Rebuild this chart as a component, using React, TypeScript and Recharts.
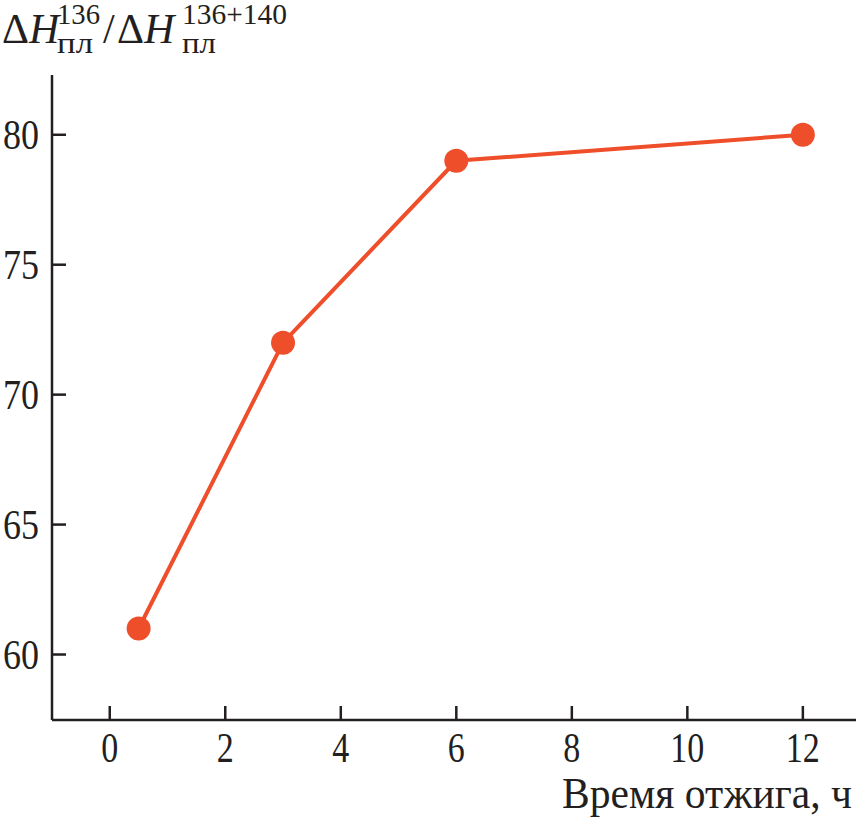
import React from "react";
import { LineChart, Line, XAxis, YAxis } from "recharts";

const hours = [0.5, 3, 6, 12];
const ratio = [61, 72, 79, 80];
const xTicks = [0, 2, 4, 6, 8, 10, 12];
const yTicks = [60, 65, 70, 75, 80];

const data = hours.map((h, i) => ({ h, v: ratio[i] }));

const INK = "#231f20";
const RED = "#ef4e2a";
const FONT = "'Liberation Serif', 'Times New Roman', serif";

function XTick(props: any) {
  const { x, y, payload } = props;
  const s = String(payload.value);
  return (
    <g>
      <line x1={x} y1={y} x2={x} y2={y - 14} stroke={INK} strokeWidth={2.5} />
      <text x={x} y={y + 42} textAnchor="middle" fill={INK} fontFamily={FONT} fontSize={42}
        textLength={s.length * 17} lengthAdjust="spacingAndGlyphs">{s}</text>
    </g>
  );
}

function YTick(props: any) {
  const { x, y, payload } = props;
  const s = String(payload.value);
  return (
    <g>
      <line x1={x} y1={y} x2={x + 14} y2={y} stroke={INK} strokeWidth={2.5} />
      <text x={x - 13} y={y + 14} textAnchor="end" fill={INK} fontFamily={FONT} fontSize={42}
        textLength={s.length * 18} lengthAdjust="spacingAndGlyphs">{s}</text>
    </g>
  );
}

function YTitle() {
  return (
    <g fill={INK} fontFamily={FONT}>
      <text x={2} y={43} fontSize={42}>Δ<tspan fontStyle="italic">H</tspan></text>
      <text x={57} y={24} fontSize={30} textLength={43} lengthAdjust="spacingAndGlyphs">136</text>
      <text x={57} y={53} fontSize={30} textLength={36} lengthAdjust="spacingAndGlyphs">пл</text>
      <text x={103} y={43} fontSize={42}>/</text>
      <text x={117} y={43} fontSize={42}>Δ<tspan fontStyle="italic">H</tspan></text>
      <text x={182} y={24} fontSize={30} textLength={105} lengthAdjust="spacingAndGlyphs">136+140</text>
      <text x={182} y={53} fontSize={30} textLength={34} lengthAdjust="spacingAndGlyphs">пл</text>
    </g>
  );
}

function XTitle() {
  return (
    <text x={852} y={808} textAnchor="end" fill={INK} fontFamily={FONT} fontSize={45}
      textLength={290} lengthAdjust="spacingAndGlyphs">Время отжига, ч</text>
  );
}

export default function App() {
  return (
    <div style={{ position: "absolute", left: 0, top: 0, background: "#fff" }}>
      <LineChart width={856} height={821} data={data} margin={{ top: 75, right: 0, bottom: 0, left: 0 }}>
        <XAxis
          dataKey="h"
          type="number"
          domain={[-1, 12.92]}
          ticks={xTicks}
          allowDataOverflow
          height={101}
          tickSize={0}
          tickMargin={0}
          tickLine={false}
          axisLine={{ stroke: INK, strokeWidth: 2.5 }}
          tick={<XTick />}
          label={{ content: () => <XTitle /> }}
        />
        <YAxis
          type="number"
          domain={[57.48, 82.3]}
          ticks={yTicks}
          allowDataOverflow
          width={52}
          tickSize={0}
          tickMargin={0}
          tickLine={false}
          axisLine={{ stroke: INK, strokeWidth: 2.5 }}
          tick={<YTick />}
          label={{ content: () => <YTitle /> }}
        />
        <Line
          dataKey="v"
          stroke={RED}
          strokeWidth={4}
          dot={{ r: 12, fill: RED, stroke: "none" }}
          isAnimationActive={false}
        />
      </LineChart>
    </div>
  );
}
